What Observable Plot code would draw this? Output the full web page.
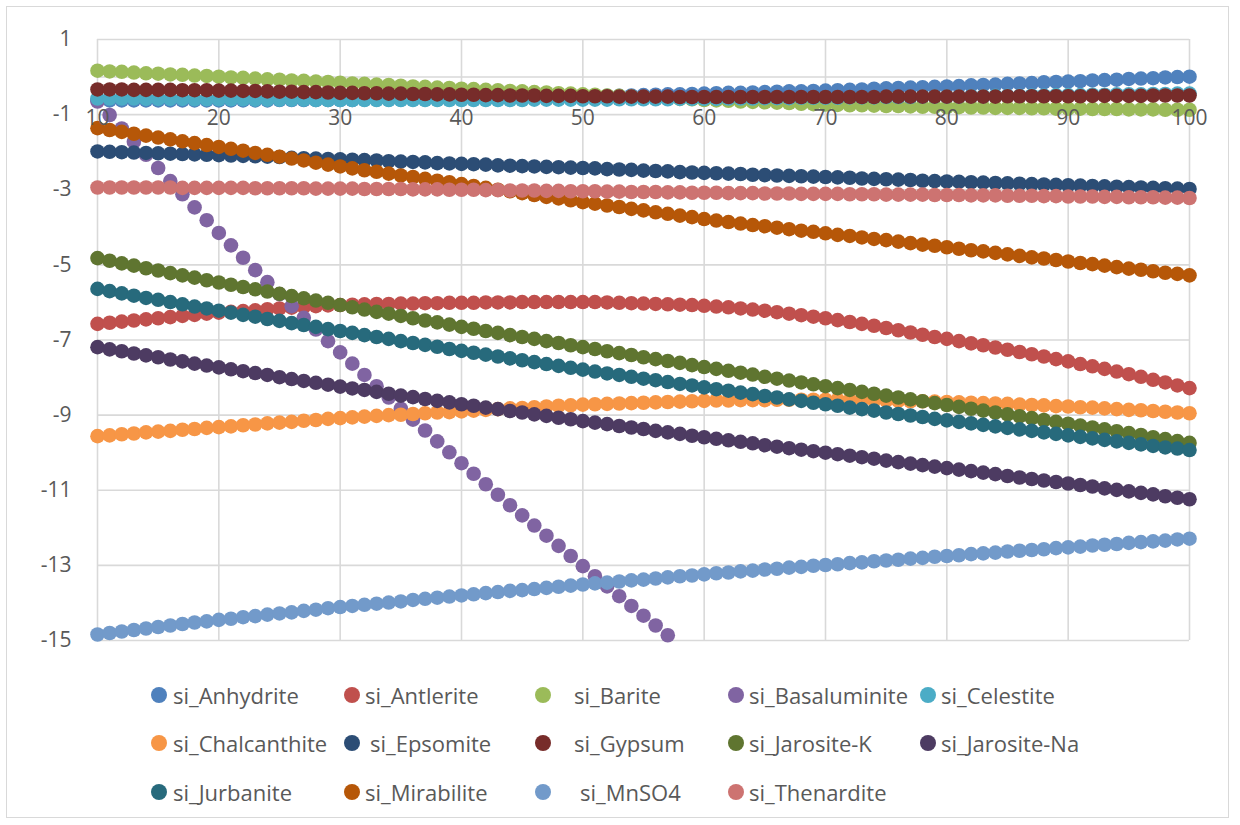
<!DOCTYPE html>
<html>
<head>
<meta charset="utf-8">
<script src="https://cdn.jsdelivr.net/npm/d3@7"></script>
<script src="https://cdn.jsdelivr.net/npm/@observablehq/plot@0.6"></script>
<style>
  html, body { margin: 0; padding: 0; background: #fff; }
  #chart { position: relative; width: 1240px; height: 825px; overflow: hidden; font-family: "Open Sans", sans-serif; }
  #frame { position: absolute; left: 6px; top: 6px; width: 1223px; height: 812px; border: 1.5px solid #d9d9d9; box-sizing: border-box; }
  #plot { position: absolute; left: 0; top: 0; }
  .lg { position: absolute; display: flex; align-items: center; font-size: 22px; color: #595959; white-space: nowrap; }
  .sw { position: absolute; width: 16px; height: 16px; border-radius: 50%; }
</style>
</head>
<body>
<div id="chart"><div id="frame"></div><div id="plot"></div></div>
<script>
// Temperature steps shared by every series
const temps = [10,11,12,13,14,15,16,17,18,19,20,21,22,23,24,25,26,27,28,29,30,31,32,33,34,35,36,37,38,39,40,41,42,43,44,45,46,47,48,49,50,51,52,53,54,55,56,57,58,59,60,61,62,63,64,65,66,67,68,69,70,71,72,73,74,75,76,77,78,79,80,81,82,83,84,85,86,87,88,89,90,91,92,93,94,95,96,97,98,99,100];

const names = ["si_Anhydrite","si_Antlerite","si_Barite","si_Basaluminite","si_Celestite","si_Chalcanthite","si_Epsomite","si_Gypsum","si_Jarosite-K","si_Jarosite-Na","si_Jurbanite","si_Mirabilite","si_MnSO4","si_Thenardite"];
const colors = ["#4f81bd","#c0504d","#9bbb59","#8064a2","#4bacc6","#f79646","#2c4d75","#772c2a","#5f7530","#4d3b62","#276a7c","#b65708","#729aca","#cd7371"];

const siAnhydrite = [-0.62,-0.62,-0.62,-0.62,-0.62,-0.62,-0.62,-0.62,-0.62,-0.62,
  -0.62,-0.62,-0.62,-0.62,-0.62,-0.61,-0.61,-0.61,-0.61,-0.61,
  -0.61,-0.61,-0.60,-0.60,-0.60,-0.60,-0.59,-0.59,-0.59,-0.58,
  -0.58,-0.57,-0.57,-0.56,-0.56,-0.55,-0.55,-0.54,-0.53,-0.53,
  -0.52,-0.51,-0.50,-0.50,-0.49,-0.48,-0.47,-0.46,-0.46,-0.45,
  -0.44,-0.43,-0.42,-0.42,-0.41,-0.40,-0.39,-0.38,-0.38,-0.37,
  -0.36,-0.35,-0.34,-0.33,-0.31,-0.30,-0.29,-0.28,-0.27,-0.26,
  -0.25,-0.24,-0.22,-0.21,-0.20,-0.18,-0.17,-0.16,-0.14,-0.13,
  -0.12,-0.11,-0.09,-0.08,-0.07,-0.05,-0.04,-0.03,-0.01,0.00,0.01];
const siAntlerite = [-6.57,-6.54,-6.51,-6.48,-6.45,-6.42,-6.39,-6.36,-6.33,-6.30,
  -6.27,-6.25,-6.23,-6.21,-6.18,-6.16,-6.14,-6.12,-6.10,-6.08,
  -6.07,-6.06,-6.05,-6.04,-6.04,-6.03,-6.03,-6.02,-6.02,-6.01,
  -6.01,-6.01,-6.00,-6.00,-6.00,-5.99,-5.99,-5.99,-5.99,-5.99,
  -5.99,-5.99,-6.00,-6.01,-6.02,-6.03,-6.04,-6.05,-6.06,-6.07,
  -6.09,-6.11,-6.13,-6.16,-6.19,-6.22,-6.26,-6.30,-6.34,-6.38,
  -6.42,-6.47,-6.52,-6.57,-6.62,-6.68,-6.74,-6.80,-6.86,-6.92,
  -6.97,-7.03,-7.09,-7.14,-7.20,-7.26,-7.32,-7.38,-7.44,-7.51,
  -7.57,-7.64,-7.70,-7.77,-7.84,-7.91,-7.98,-8.06,-8.13,-8.21,-8.28];
const siBarite = [0.17,0.15,0.14,0.12,0.10,0.09,0.07,0.06,0.04,0.03,
  0.01,-0.01,-0.02,-0.04,-0.06,-0.07,-0.09,-0.10,-0.12,-0.13,
  -0.15,-0.17,-0.18,-0.20,-0.21,-0.23,-0.25,-0.26,-0.28,-0.29,
  -0.31,-0.32,-0.34,-0.35,-0.37,-0.38,-0.40,-0.41,-0.43,-0.44,
  -0.46,-0.47,-0.49,-0.50,-0.52,-0.53,-0.55,-0.56,-0.58,-0.59,
  -0.61,-0.62,-0.63,-0.65,-0.66,-0.67,-0.68,-0.69,-0.71,-0.72,
  -0.73,-0.74,-0.75,-0.75,-0.76,-0.77,-0.77,-0.78,-0.79,-0.79,
  -0.80,-0.80,-0.81,-0.81,-0.82,-0.82,-0.82,-0.83,-0.83,-0.84,
  -0.84,-0.84,-0.85,-0.85,-0.85,-0.86,-0.86,-0.86,-0.87,-0.87,-0.87];
// Basaluminite is only reported up to 57
const siBasaluminite = [-0.65,-1.01,-1.37,-1.72,-2.07,-2.42,-2.77,-3.12,-3.47,-3.81,
  -4.15,-4.48,-4.81,-5.14,-5.46,-5.78,-6.10,-6.41,-6.72,-7.03,
  -7.33,-7.63,-7.93,-8.23,-8.53,-8.83,-9.12,-9.41,-9.70,-9.99,
  -10.28,-10.56,-10.84,-11.12,-11.40,-11.67,-11.94,-12.21,-12.48,-12.75,
  -13.02,-13.29,-13.56,-13.82,-14.08,-14.34,-14.60,-14.86];
const siCelestite = [-0.57,-0.57,-0.57,-0.57,-0.58,-0.58,-0.58,-0.58,-0.59,-0.59,
  -0.59,-0.59,-0.59,-0.60,-0.60,-0.60,-0.60,-0.60,-0.61,-0.61,
  -0.61,-0.61,-0.61,-0.61,-0.61,-0.61,-0.61,-0.61,-0.61,-0.61,
  -0.61,-0.61,-0.61,-0.61,-0.61,-0.61,-0.60,-0.60,-0.60,-0.60,
  -0.60,-0.60,-0.60,-0.59,-0.59,-0.59,-0.59,-0.59,-0.58,-0.58,
  -0.58,-0.58,-0.57,-0.57,-0.57,-0.56,-0.56,-0.56,-0.55,-0.55,
  -0.55,-0.55,-0.54,-0.54,-0.54,-0.53,-0.53,-0.53,-0.52,-0.52,
  -0.52,-0.52,-0.51,-0.51,-0.50,-0.50,-0.50,-0.49,-0.49,-0.48,
  -0.48,-0.48,-0.47,-0.47,-0.46,-0.46,-0.46,-0.45,-0.45,-0.44,-0.44];
const siChalcanthite = [-9.56,-9.54,-9.51,-9.49,-9.46,-9.44,-9.42,-9.39,-9.37,-9.34,
  -9.32,-9.30,-9.27,-9.25,-9.22,-9.20,-9.18,-9.15,-9.13,-9.10,
  -9.08,-9.06,-9.04,-9.02,-9.00,-8.99,-8.97,-8.95,-8.93,-8.92,
  -8.90,-8.88,-8.86,-8.84,-8.82,-8.81,-8.79,-8.77,-8.75,-8.74,
  -8.72,-8.71,-8.70,-8.69,-8.68,-8.67,-8.66,-8.65,-8.64,-8.63,
  -8.62,-8.61,-8.61,-8.60,-8.60,-8.60,-8.59,-8.59,-8.59,-8.59,
  -8.59,-8.59,-8.60,-8.60,-8.61,-8.61,-8.62,-8.63,-8.63,-8.64,
  -8.65,-8.66,-8.67,-8.68,-8.69,-8.70,-8.72,-8.73,-8.74,-8.76,
  -8.77,-8.79,-8.80,-8.82,-8.84,-8.86,-8.87,-8.89,-8.91,-8.93,-8.95];
const siEpsomite = [-1.98,-1.99,-2.00,-2.01,-2.02,-2.03,-2.04,-2.05,-2.06,-2.07,
  -2.08,-2.09,-2.10,-2.11,-2.12,-2.13,-2.15,-2.16,-2.17,-2.18,
  -2.19,-2.20,-2.21,-2.22,-2.24,-2.25,-2.26,-2.27,-2.29,-2.30,
  -2.31,-2.32,-2.33,-2.35,-2.36,-2.37,-2.38,-2.39,-2.40,-2.41,
  -2.42,-2.43,-2.45,-2.46,-2.47,-2.49,-2.50,-2.51,-2.53,-2.54,
  -2.55,-2.56,-2.57,-2.58,-2.60,-2.61,-2.62,-2.63,-2.64,-2.65,
  -2.66,-2.67,-2.68,-2.70,-2.71,-2.72,-2.73,-2.74,-2.76,-2.77,
  -2.78,-2.79,-2.80,-2.81,-2.82,-2.83,-2.84,-2.85,-2.86,-2.87,
  -2.88,-2.89,-2.90,-2.91,-2.92,-2.93,-2.94,-2.95,-2.96,-2.97,-2.98];
const siGypsum = [-0.33,-0.33,-0.33,-0.34,-0.34,-0.34,-0.34,-0.35,-0.35,-0.35,
  -0.36,-0.36,-0.37,-0.37,-0.38,-0.39,-0.39,-0.40,-0.40,-0.41,
  -0.42,-0.42,-0.43,-0.43,-0.44,-0.44,-0.45,-0.45,-0.46,-0.46,
  -0.47,-0.47,-0.48,-0.48,-0.49,-0.49,-0.49,-0.50,-0.50,-0.50,
  -0.51,-0.51,-0.51,-0.52,-0.52,-0.52,-0.52,-0.52,-0.53,-0.53,
  -0.53,-0.53,-0.53,-0.53,-0.53,-0.53,-0.53,-0.53,-0.53,-0.53,
  -0.53,-0.53,-0.53,-0.53,-0.53,-0.52,-0.52,-0.52,-0.52,-0.52,
  -0.52,-0.52,-0.52,-0.52,-0.52,-0.51,-0.51,-0.51,-0.51,-0.51,
  -0.51,-0.51,-0.50,-0.50,-0.50,-0.50,-0.50,-0.49,-0.49,-0.49,-0.49];
const siJarositeK = [-4.82,-4.89,-4.96,-5.02,-5.09,-5.15,-5.22,-5.28,-5.34,-5.41,
  -5.47,-5.53,-5.59,-5.65,-5.71,-5.77,-5.83,-5.89,-5.95,-6.01,
  -6.07,-6.13,-6.19,-6.25,-6.30,-6.36,-6.42,-6.48,-6.53,-6.59,
  -6.65,-6.70,-6.76,-6.81,-6.87,-6.92,-6.97,-7.03,-7.08,-7.14,
  -7.19,-7.24,-7.30,-7.35,-7.40,-7.46,-7.51,-7.56,-7.61,-7.67,
  -7.72,-7.77,-7.82,-7.87,-7.92,-7.98,-8.03,-8.08,-8.13,-8.18,
  -8.23,-8.28,-8.33,-8.38,-8.43,-8.48,-8.53,-8.58,-8.63,-8.68,
  -8.73,-8.78,-8.83,-8.88,-8.93,-8.98,-9.03,-9.08,-9.13,-9.18,
  -9.23,-9.28,-9.33,-9.38,-9.43,-9.48,-9.53,-9.59,-9.64,-9.69,-9.74];
const siJarositeNa = [-7.19,-7.25,-7.30,-7.36,-7.41,-7.46,-7.52,-7.57,-7.63,-7.68,
  -7.73,-7.78,-7.83,-7.88,-7.93,-7.99,-8.04,-8.09,-8.14,-8.19,
  -8.24,-8.29,-8.33,-8.38,-8.43,-8.48,-8.52,-8.57,-8.62,-8.66,
  -8.71,-8.75,-8.80,-8.84,-8.89,-8.93,-8.98,-9.02,-9.07,-9.11,
  -9.16,-9.20,-9.24,-9.29,-9.33,-9.37,-9.42,-9.46,-9.50,-9.55,
  -9.59,-9.63,-9.67,-9.71,-9.75,-9.80,-9.84,-9.88,-9.92,-9.96,
  -10.00,-10.04,-10.08,-10.12,-10.16,-10.21,-10.25,-10.29,-10.33,-10.37,
  -10.41,-10.45,-10.49,-10.53,-10.57,-10.62,-10.66,-10.70,-10.74,-10.78,
  -10.82,-10.86,-10.90,-10.95,-10.99,-11.03,-11.07,-11.11,-11.16,-11.20,-11.24];
const siJurbanite = [-5.64,-5.70,-5.76,-5.82,-5.88,-5.93,-5.99,-6.05,-6.11,-6.16,
  -6.22,-6.27,-6.33,-6.38,-6.44,-6.49,-6.55,-6.60,-6.65,-6.71,
  -6.76,-6.81,-6.87,-6.92,-6.97,-7.03,-7.08,-7.13,-7.18,-7.24,
  -7.29,-7.34,-7.39,-7.44,-7.49,-7.54,-7.59,-7.64,-7.69,-7.74,
  -7.79,-7.84,-7.89,-7.93,-7.98,-8.03,-8.07,-8.12,-8.17,-8.21,
  -8.26,-8.31,-8.35,-8.40,-8.44,-8.49,-8.53,-8.58,-8.62,-8.67,
  -8.71,-8.75,-8.80,-8.84,-8.88,-8.93,-8.97,-9.01,-9.05,-9.10,
  -9.14,-9.18,-9.22,-9.26,-9.30,-9.34,-9.38,-9.42,-9.46,-9.50,
  -9.54,-9.58,-9.62,-9.66,-9.70,-9.74,-9.78,-9.82,-9.86,-9.89,-9.93];
const siMirabilite = [-1.36,-1.41,-1.46,-1.51,-1.56,-1.61,-1.66,-1.71,-1.76,-1.81,
  -1.86,-1.91,-1.96,-2.02,-2.07,-2.12,-2.17,-2.22,-2.28,-2.33,
  -2.38,-2.43,-2.48,-2.52,-2.57,-2.62,-2.66,-2.71,-2.76,-2.80,
  -2.85,-2.90,-2.95,-3.00,-3.04,-3.09,-3.14,-3.19,-3.23,-3.28,
  -3.33,-3.37,-3.42,-3.46,-3.51,-3.55,-3.60,-3.64,-3.69,-3.73,
  -3.78,-3.82,-3.86,-3.90,-3.94,-3.97,-4.01,-4.05,-4.09,-4.12,
  -4.16,-4.20,-4.23,-4.27,-4.31,-4.34,-4.38,-4.42,-4.46,-4.49,
  -4.53,-4.57,-4.61,-4.64,-4.68,-4.72,-4.76,-4.80,-4.83,-4.87,
  -4.91,-4.95,-4.98,-5.02,-5.06,-5.10,-5.13,-5.17,-5.21,-5.24,-5.28];
const siMnSO4 = [-14.84,-14.80,-14.76,-14.72,-14.68,-14.64,-14.60,-14.56,-14.52,-14.49,
  -14.45,-14.42,-14.38,-14.35,-14.31,-14.28,-14.25,-14.21,-14.18,-14.14,
  -14.11,-14.08,-14.05,-14.02,-13.99,-13.96,-13.92,-13.89,-13.86,-13.83,
  -13.80,-13.77,-13.74,-13.71,-13.68,-13.66,-13.63,-13.60,-13.57,-13.54,
  -13.51,-13.48,-13.46,-13.43,-13.40,-13.38,-13.35,-13.32,-13.29,-13.27,
  -13.24,-13.21,-13.19,-13.16,-13.14,-13.11,-13.09,-13.06,-13.04,-13.01,
  -12.99,-12.97,-12.94,-12.92,-12.89,-12.87,-12.85,-12.82,-12.80,-12.77,
  -12.75,-12.73,-12.70,-12.68,-12.66,-12.63,-12.61,-12.59,-12.57,-12.54,
  -12.52,-12.50,-12.47,-12.45,-12.43,-12.40,-12.38,-12.36,-12.34,-12.31,-12.29];
const siThenardite = [-2.94,-2.94,-2.94,-2.94,-2.94,-2.94,-2.94,-2.95,-2.95,-2.95,
  -2.95,-2.95,-2.95,-2.96,-2.96,-2.96,-2.96,-2.96,-2.97,-2.97,
  -2.97,-2.97,-2.98,-2.98,-2.98,-2.98,-2.99,-2.99,-2.99,-3.00,
  -3.00,-3.00,-3.01,-3.01,-3.02,-3.02,-3.02,-3.03,-3.03,-3.04,
  -3.04,-3.04,-3.05,-3.05,-3.06,-3.06,-3.06,-3.07,-3.07,-3.08,
  -3.08,-3.08,-3.09,-3.09,-3.09,-3.10,-3.10,-3.10,-3.11,-3.11,
  -3.11,-3.11,-3.12,-3.12,-3.12,-3.13,-3.13,-3.13,-3.13,-3.14,
  -3.14,-3.14,-3.15,-3.15,-3.15,-3.16,-3.16,-3.16,-3.17,-3.17,
  -3.18,-3.18,-3.18,-3.19,-3.19,-3.20,-3.20,-3.20,-3.21,-3.21,-3.22];

const seriesValues = [siAnhydrite, siAntlerite, siBarite, siBasaluminite, siCelestite, siChalcanthite,
  siEpsomite, siGypsum, siJarositeK, siJarositeNa, siJurbanite, siMirabilite, siMnSO4, siThenardite];

const xTicks = [10,20,30,40,50,60,70,80,90,100];
const yTicks = [1,-1,-3,-5,-7,-9,-11,-13,-15];

// Long table: series drawn in legend order, later ones on top
const points = names.flatMap((name, i) =>
  seriesValues[i].map((v, j) => ({name, t: temps[j], si: v})));

const grid = "#d9d9d9";
const ink = "#595959";

const chart = Plot.plot({
  width: 1240,
  height: 660,
  marginLeft: 97,
  marginRight: 51,
  marginTop: 39,
  marginBottom: 20,
  style: {fontFamily: "'Open Sans', sans-serif", background: "transparent", overflow: "visible"},
  x: {domain: [10, 100], axis: null},
  y: {domain: [-15, 1], axis: null},
  color: {domain: names, range: colors},
  marks: [
    Plot.ruleX(xTicks, {stroke: grid, strokeWidth: 1.6}),
    Plot.ruleY(yTicks, {stroke: grid, strokeWidth: 1.6}),
    Plot.ruleY([0], {stroke: grid, strokeWidth: 1.6}),
    Plot.axisY(yTicks, {tickSize: 0, tickPadding: 26, fontSize: 21, fill: ink, label: null, tickFormat: d => String(d)}),
    Plot.dot(points, {x: "t", y: "si", fill: "name", r: 7.3, stroke: null}),
    Plot.text(xTicks, {x: d => d, y: -1, text: d => String(d), dy: 4, fontSize: 21, fill: ink})
  ]
});
document.getElementById("plot").appendChild(chart);

// Legend below the plotting area, three rows of entries
const legendRows = [695, 743, 792];
const legendSwatchX = [159, 352, 543, 736, 928];
const legendTextX = [
  [173, 365, 574, 749, 941],
  [173, 370, 574, 749, 941],
  [173, 365, 580, 749]
];
const root = document.getElementById("chart");
names.forEach((name, i) => {
  const row = Math.floor(i / 5), col = i % 5;
  const dot = document.createElement("span");
  dot.className = "sw";
  dot.style.background = colors[i];
  dot.style.left = (legendSwatchX[col] - 8) + "px";
  dot.style.top = (legendRows[row] - 8) + "px";
  root.appendChild(dot);
  const label = document.createElement("div");
  label.className = "lg";
  label.textContent = name;
  label.style.left = legendTextX[row][col] + "px";
  label.style.top = (legendRows[row] - 15) + "px";
  label.style.height = "30px";
  root.appendChild(label);
});
</script>
</body>
</html>
